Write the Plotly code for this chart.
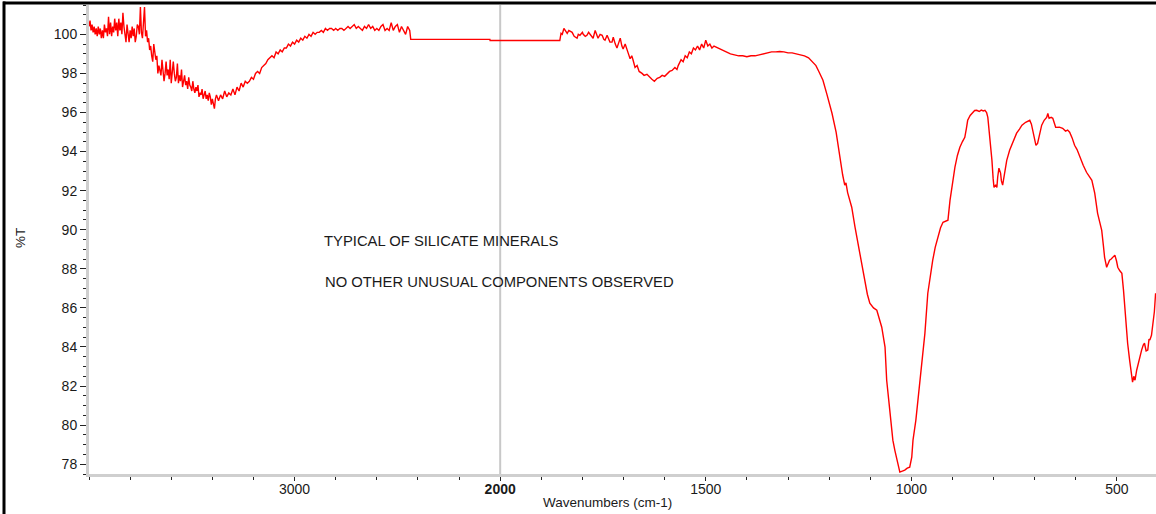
import plotly.graph_objects as go

# ---------------- data ----------------
# 4000-2440 cm-1 region (noisy)
wn_hi = [4000, 3995, 3990, 3985, 3980, 3975, 3970, 3965, 3960, 3955,
         3950, 3945, 3940, 3935, 3930, 3925, 3920, 3915, 3910, 3905,
         3900, 3895, 3890, 3885, 3880, 3875, 3870, 3865, 3860, 3855,
         3850, 3845, 3840, 3835, 3830, 3825, 3820, 3815, 3810, 3805,
         3800, 3795, 3790, 3785, 3780, 3775, 3770, 3765,
         3760, 3755, 3750, 3745, 3740, 3735, 3730, 3725, 3720, 3715,
         3710, 3705,
         3700, 3695, 3690, 3685, 3680, 3675, 3670, 3665,
         3660, 3655, 3650, 3645, 3640, 3635, 3630, 3625, 3620, 3615,
         3610, 3605, 3600, 3595, 3590, 3585, 3580, 3575, 3570, 3565,
         3560, 3555, 3550, 3545, 3540, 3535, 3530, 3525, 3520, 3515,
         3510, 3505, 3500, 3495, 3490, 3485, 3480, 3475, 3470, 3465,
         3460, 3455, 3450, 3445, 3440, 3435, 3430, 3425, 3420, 3415,
         3410, 3405, 3400, 3395, 3390, 3385, 3380,
         3370, 3360, 3350, 3340, 3330, 3320, 3310,
         3300, 3290, 3280, 3270, 3260, 3250, 3240, 3230, 3220, 3210,
         3200, 3190, 3180, 3170, 3160, 3150, 3140, 3130, 3120, 3110,
         3100, 3090, 3080, 3070, 3060, 3050, 3040, 3030, 3020, 3010,
         3000, 2990, 2980, 2970, 2960, 2950, 2940, 2930, 2920, 2910,
         2900, 2890, 2880, 2870, 2860, 2850, 2840, 2830, 2820, 2810,
         2800, 2790, 2780, 2770, 2760, 2750, 2740, 2730, 2720, 2710,
         2700, 2690, 2680, 2670, 2660, 2650, 2640, 2630, 2620, 2610,
         2600, 2590, 2580, 2570, 2560, 2550, 2540, 2530, 2520, 2510,
         2500, 2490, 2480, 2470, 2460, 2450, 2440]
t_hi = [100.4, 100.7, 100.2, 100.5, 100.1, 100.4, 100.0, 100.3, 99.9, 100.4,
        100.0, 100.3, 99.8, 100.2, 99.8, 100.5, 100.1, 100.3, 99.9, 100.9,
        100.0, 100.6, 99.9, 100.4, 100.1, 100.8, 100.2, 100.6, 99.9, 100.8,
        100.2, 100.6, 100.0, 101.1, 100.4, 100.0, 99.6, 100.5, 100.1, 99.6,
        100.2, 99.8, 100.4, 99.9, 100.3, 99.6, 99.9, 100.5,
        100.4, 100.0, 101.4, 100.1, 99.8, 100.6, 101.4, 99.9, 100.2, 99.6,
        99.8, 99.2,
        99.4, 98.9, 98.6, 99.5, 99.0, 98.7, 98.9, 98.0,
        98.4, 98.2, 97.9, 98.7, 98.1, 97.6, 98.0, 98.6, 97.9, 98.2,
        97.7, 98.7, 97.5, 97.9, 98.6, 98.0, 97.6, 97.8, 98.5, 97.5,
        97.9, 97.6, 98.2, 97.3, 97.6, 97.9, 97.4, 97.6, 97.2, 97.8,
        97.4, 97.3, 97.1, 97.6, 97.2, 97.0, 97.3, 97.1, 97.4, 96.8,
        97.0, 96.9, 97.2, 96.7, 96.9, 97.1, 96.7, 96.9, 96.6, 97.0,
        96.8, 96.4, 96.7, 96.5, 96.2, 96.7, 96.9,
        96.6, 96.9, 96.7, 97.1, 96.8, 97.0, 96.9,
        97.2, 96.9, 97.3, 97.1, 97.5, 97.3, 97.6, 97.5, 97.6, 97.8,
        97.7, 98.0, 98.1, 98.0, 98.3, 98.4, 98.5, 98.7, 98.8, 98.9,
        98.8, 99.1, 99.0, 99.2, 99.1, 99.3, 99.3, 99.5, 99.4, 99.6,
        99.5, 99.7, 99.6, 99.8, 99.7, 99.9, 99.8, 100.0, 99.9, 100.1,
        100.0, 100.1, 100.1, 100.2, 100.1, 100.3, 100.2, 100.3, 100.3, 100.2,
        100.3, 100.2, 100.3, 100.3, 100.2, 100.3, 100.4, 100.3, 100.4, 100.5,
        100.3, 100.4, 100.3, 100.2, 100.4, 100.3, 100.5, 100.3, 100.4, 100.2,
        100.3, 100.2, 100.4, 100.5, 100.2, 100.3, 100.2, 100.6, 100.2, 100.4,
        100.5, 100.1, 100.4, 100.2, 100.0, 100.4, 100.2]

# straight (blanked) segment 2435-1855 cm-1
wn_flat = [2435, 2050, 2049, 1855]
t_flat = [99.74, 99.74, 99.68, 99.68]

# 1852-406 cm-1 region
wn_lo = [1852, 1849, 1845, 1842, 1837, 1833, 1830, 1825, 1820, 1813,
         1810, 1806, 1800, 1798, 1793, 1789, 1785, 1781, 1774, 1769,
         1765, 1762, 1757, 1752, 1748, 1745, 1740, 1738, 1733, 1728,
         1725, 1720, 1716, 1712, 1708, 1704, 1701, 1696, 1691, 1688,
         1684, 1680, 1677, 1672, 1667, 1662, 1655, 1650, 1643, 1637,
         1631, 1625, 1618, 1612, 1606, 1600, 1594, 1588, 1582, 1575,
         1570, 1567, 1560, 1555, 1550, 1545, 1540, 1535, 1530, 1525,
         1520, 1515, 1510, 1505, 1500, 1495, 1490, 1485, 1480, 1470,
         1460, 1450, 1440, 1430, 1420, 1410, 1400, 1390, 1380, 1370,
         1360, 1350, 1340, 1330, 1320, 1310, 1300, 1290, 1280, 1270,
         1260, 1250, 1240, 1232, 1225, 1215, 1205, 1193, 1183, 1174,
         1167, 1162, 1159, 1155, 1145, 1137, 1131, 1125, 1119, 1113,
         1107, 1101, 1092, 1084, 1078, 1072, 1064, 1060, 1055, 1050,
         1045, 1040, 1035, 1028, 1022, 1016, 1010, 1004, 999, 996,
         989, 984, 979, 974, 967, 960, 954, 948, 942, 936,
         929, 923, 917, 911, 906, 902, 898, 894, 888, 882,
         876, 870, 866, 863, 857, 851, 846, 841, 835, 830,
         825, 821, 817, 814, 810, 806, 804, 801, 799, 795,
         792, 790, 787, 783, 781, 778, 774, 771, 768, 761,
         752, 744, 737, 731, 722, 712, 708, 705, 701, 697,
         693, 688, 683, 677, 671, 668, 665, 660, 656, 649,
         640, 632, 625, 620, 615, 609, 603, 597, 590, 582,
         574, 567, 561, 554, 547, 542, 537, 533, 530, 525,
         521, 518, 514, 509, 505, 501, 498, 493, 488, 484,
         481, 477, 474, 469, 464, 462, 459, 456, 452, 446,
         440, 436, 433, 429, 425, 422, 420, 416, 413, 409,
         406]
t_lo = [100.05, 100.0, 100.3, 100.2, 100.05, 100.2, 100.15, 100.1, 99.9, 99.8,
        100.0, 99.95, 100.1, 100.0, 99.9, 99.95, 100.1, 100.0, 99.8, 100.2,
        99.9, 99.8, 100.0, 99.95, 99.75, 99.7, 99.95, 99.85, 99.6, 99.6,
        99.85, 99.5, 99.3, 99.55, 99.8, 99.4, 99.25, 99.5, 99.1, 99.0,
        98.75, 98.9, 98.7, 98.3, 98.4, 98.1, 98.0, 97.9, 97.95, 97.8,
        97.7, 97.6, 97.75, 97.8, 97.9, 97.85, 98.0, 98.1, 98.15, 98.3,
        98.2, 98.4, 98.7, 98.6, 98.9, 98.8, 99.1, 99.0, 99.3, 99.2,
        99.4, 99.2, 99.5, 99.3, 99.7, 99.4, 99.5, 99.3, 99.4, 99.3,
        99.2, 99.1, 99.0, 98.95, 98.9, 98.9, 98.85, 98.9, 98.9, 98.95,
        99.0, 99.05, 99.1, 99.1, 99.12, 99.1, 99.05, 99.05, 99.0, 98.95,
        98.9, 98.8, 98.6, 98.4, 98.1, 97.65, 96.9, 95.96, 95.0, 93.71,
        92.8, 92.28, 92.4, 91.9, 91.15, 90.13, 89.4, 88.8, 88.0, 87.26,
        86.7, 86.24, 86.0, 85.88, 85.5, 85.01, 83.99, 82.3, 81.28, 80.2,
        79.23, 78.7, 78.21, 77.6, 77.65, 77.7, 77.8, 77.85, 78.36, 79.23,
        80.26, 81.28, 82.1, 82.97, 84.71, 86.75, 87.7, 88.44, 89.1, 89.62,
        90.1, 90.38, 90.45, 90.49, 91.5, 92.17, 92.7, 93.2, 93.8, 94.22,
        94.5, 94.73, 95.2, 95.6, 95.85, 96.01, 96.1, 96.11, 96.05, 96.12,
        96.08, 96.11, 96.0, 95.75, 95.0, 94.0, 93.55, 92.6, 92.17, 92.3,
        92.17, 92.7, 93.15, 92.9, 92.5, 92.28, 92.9, 93.2, 93.55, 94.07,
        94.55, 94.94, 95.15, 95.35, 95.5, 95.6, 95.4, 95.09, 94.8, 94.32,
        94.42, 94.9, 95.35, 95.6, 95.75, 95.95, 95.7, 95.75, 95.7, 95.24,
        95.25, 95.19, 95.05, 95.1, 94.99, 94.7, 94.32, 94.1, 93.71, 93.3,
        92.94, 92.7, 92.53, 91.87, 90.84, 90.4, 89.97, 89.2, 88.59, 88.08,
        88.3, 88.44, 88.5, 88.6, 88.7, 88.4, 88.08, 87.9, 87.77, 86.9,
        86.04, 85.0, 84.19, 83.3, 82.66, 82.2, 82.5, 82.3, 82.81, 83.4,
        83.84, 84.1, 84.19, 83.8, 83.84, 84.4, 84.35, 84.6, 85.01, 85.8,
        86.75]

major_tick_wn = [3000, 2000, 1500, 1000, 500]
major_tick_text = ["3000", "<b>2000</b>", "1500", "1000", "500"]
note_lines = ["TYPICAL OF SILICATE MINERALS", "NO OTHER UNUSUAL COMPONENTS OBSERVED"]
x_title = "Wavenumbers (cm-1)"
y_title = "%T"


# ---------------- axis scale: region above 2000 cm-1 compressed 2x ----------------
def axis_pos(w):
    return w if w <= 2000 else 2000 + (w - 2000) / 2.0


wn_all = wn_hi + wn_flat + wn_lo
t_all = t_hi + t_flat + t_lo
x_all = [axis_pos(w) for w in wn_all]

FONT = "Liberation Sans, Arial, sans-serif"
PLOT_L, PLOT_T, PLOT_R, PLOT_B = 89, 5, 1156, 474
PW, PH = PLOT_R - PLOT_L, PLOT_B - PLOT_T


def px_x(px):
    return (px - PLOT_L) / PW


def px_y(py):
    return (PLOT_B - py) / PH


fig = go.Figure()
fig.add_trace(go.Scatter(x=x_all, y=t_all, mode="lines",
                         line=dict(color="#ff0000", width=1.4),
                         customdata=wn_all,
                         hovertemplate="%{customdata} cm-1<br>%{y:.2f} %T<extra></extra>",
                         showlegend=False))

fig.update_layout(
    width=1156, height=514,
    margin=dict(l=PLOT_L, r=1156 - PLOT_R, t=PLOT_T, b=514 - PLOT_B, pad=0),
    paper_bgcolor="white", plot_bgcolor="white",
    font=dict(family=FONT, color="#1a1a1a", size=14),
    xaxis=dict(
        range=[axis_pos(4000), 405],
        tickmode="array",
        tickvals=[axis_pos(w) for w in major_tick_wn],
        ticktext=major_tick_text,
        ticks="outside", ticklen=4, tickwidth=1.2, tickcolor="#222",
        ticklabelstandoff=-4,
        minor=dict(tickmode="linear", tick0=0, dtick=100, ticks="outside",
                   ticklen=3, tickwidth=1.2, tickcolor="#222"),
        showline=True, linecolor="#cfcfcf", linewidth=3,
        showgrid=False, zeroline=False,
        tickfont=dict(family=FONT, size=14, color="#1a1a1a"),
    ),
    yaxis=dict(
        range=[77.5, 101.5],
        tickmode="linear", tick0=0, dtick=2,
        ticks="outside", ticklen=6, tickwidth=1.2, tickcolor="#222",
        minor=dict(tickmode="linear", tick0=0, dtick=0.5, ticks="outside",
                   ticklen=3, tickwidth=1.2, tickcolor="#222"),
        showline=True, linecolor="#cfcfcf", linewidth=3,
        showgrid=False, zeroline=False,
        tickfont=dict(family=FONT, size=14, color="#1a1a1a"),
    ),
)

# scale-break marker at 2000 cm-1
fig.add_shape(type="line", xref="x", yref="paper", x0=axis_pos(2000), x1=axis_pos(2000),
              y0=0, y1=1, line=dict(color="#c8c8c8", width=2), layer="below")

# black frame edges (top and left) of the original screenshot
fig.add_shape(type="rect", xref="paper", yref="paper", x0=px_x(3), x1=px_x(1156),
              y0=px_y(4.5), y1=px_y(1.5), fillcolor="black", line=dict(width=0))
fig.add_shape(type="rect", xref="paper", yref="paper", x0=px_x(2.5), x1=px_x(5.5),
              y0=px_y(514), y1=px_y(1.5), fillcolor="black", line=dict(width=0))

# axis titles
fig.add_annotation(text=y_title, xref="paper", yref="paper", x=px_x(20), y=px_y(238),
                   showarrow=False, textangle=-90, xanchor="center", yanchor="middle",
                   font=dict(family=FONT, size=13.5, color="#1a1a1a"))
fig.add_annotation(text=x_title, xref="paper", yref="paper", x=px_x(607), y=px_y(502),
                   showarrow=False, xanchor="center", yanchor="middle",
                   font=dict(family=FONT, size=13.5, color="#1a1a1a"))

# notes
fig.add_annotation(text=note_lines[0], xref="paper", yref="paper",
                   x=px_x(322), y=px_y(241), xanchor="left", yanchor="middle",
                   showarrow=False, font=dict(family=FONT, size=14.8, color="#1a1a1a"))
fig.add_annotation(text=note_lines[1], xref="paper", yref="paper",
                   x=px_x(323), y=px_y(282), xanchor="left", yanchor="middle",
                   showarrow=False, font=dict(family=FONT, size=14.8, color="#1a1a1a"))

fig.write_html("out.html", config={"displayModeBar": False},
               post_script="document.body.style.margin='0';document.body.style.overflow='hidden';")
